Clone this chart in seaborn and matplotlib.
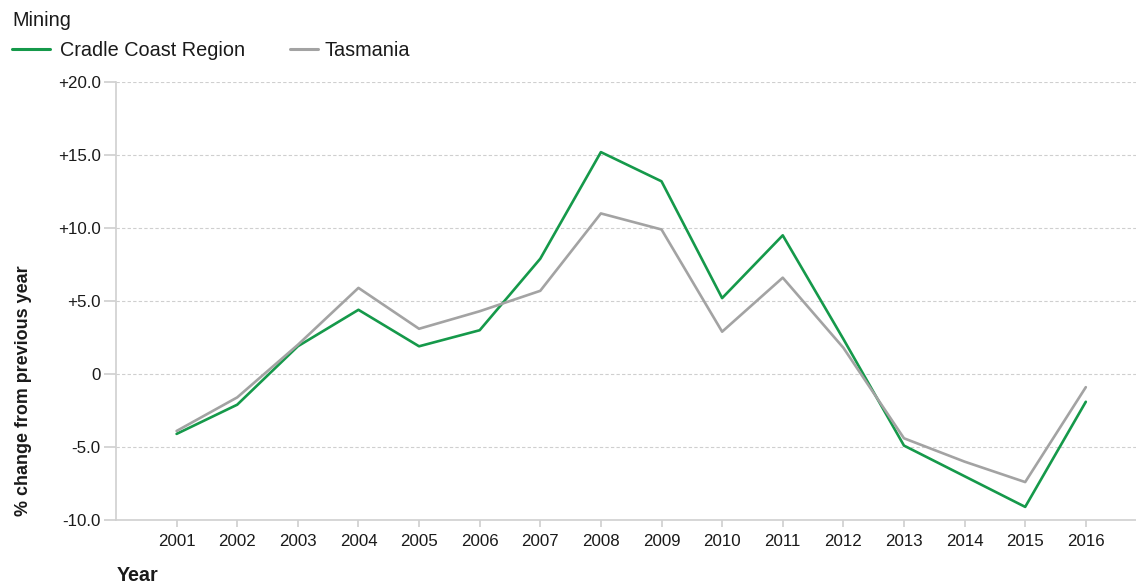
import pandas as pd
import numpy as np
import matplotlib
matplotlib.use("Agg")
import matplotlib.pyplot as plt
import seaborn as sns

# Data
years = list(range(2001, 2017))
cradle_coast = [-4.1, -2.1, 1.9, 4.4, 1.9, 3.0, 7.9, 15.2, 13.2, 5.2, 9.5, 2.4, -4.9, -7.0, -9.1, -1.9]
tasmania = [-3.9, -1.6, 2.0, 5.9, 3.1, 4.3, 5.7, 11.0, 9.9, 2.9, 6.6, 1.8, -4.4, -6.0, -7.4, -0.9]
series_names = ["Cradle Coast Region", "Tasmania"]
series_colors = ["#15994a", "#a3a3a3"]
y_ticks = [-10, -5, 0, 5, 10, 15, 20]
y_tick_labels = ["-10.0", "-5.0", "0", "+5.0", "+10.0", "+15.0", "+20.0"]

df = pd.DataFrame({
    "Year": years * 2,
    "value": cradle_coast + tasmania,
    "series": [series_names[0]] * len(years) + [series_names[1]] * len(years),
})

sns.set_theme(style="white")
plt.rcParams["font.family"] = ["Liberation Sans", "DejaVu Sans"]

fig = plt.figure(figsize=(11.36, 5.83), dpi=100)
ax = fig.add_axes([0.1021, 0.108, 0.898, 0.7513])

sns.lineplot(data=df, x="Year", y="value", hue="series",
             palette=dict(zip(series_names, series_colors)),
             linewidth=1.9, ax=ax, legend=False)

ax.set_xlim(2000, 2016.83)
ax.set_ylim(-10, 20)
ax.set_xticks(years)
ax.set_xticklabels([str(y) for y in years], fontsize=12.2)
ax.set_yticks(y_ticks)
ax.set_yticklabels(y_tick_labels, fontsize=12.2)
ax.yaxis.grid(True, linestyle=(0, (3, 2)), color="#cfcfcf", linewidth=0.8)
ax.xaxis.grid(False)

for side in ["top", "right"]:
    ax.spines[side].set_visible(False)
for side in ["left", "bottom"]:
    ax.spines[side].set_color("#d0d0d0")
    ax.spines[side].set_linewidth(1.2)
ax.tick_params(axis="both", which="both", length=6, color="#d0d0d0",
               labelcolor="#1a1a1a", direction="out")
ax.tick_params(axis="x", length=5, pad=5)
ax.tick_params(axis="y", length=9, pad=2)
ax.yaxis.set_ticks_position("left")
ax.xaxis.set_ticks_position("bottom")

ax.set_xlabel("")
ax.set_ylabel("% change from previous year", fontsize=12.9, fontweight="bold",
              color="#1a1a1a")
ax.yaxis.set_label_coords(-0.082, 0.295)
fig.text(0.103, 0.004, "Year", fontsize=14.2, fontweight="bold", color="#1a1a1a")

# Header: subtitle and legend
fig.text(0.0105, 0.965, "Mining", fontsize=14.3, color="#1a1a1a", va="center")
fig.lines.append(plt.Line2D([0.0105, 0.044], [0.916, 0.916], transform=fig.transFigure,
                            color=series_colors[0], linewidth=2.2))
fig.text(0.053, 0.914, series_names[0], fontsize=14.3, color="#1a1a1a", va="center")
fig.lines.append(plt.Line2D([0.255, 0.280], [0.916, 0.916], transform=fig.transFigure,
                            color=series_colors[1], linewidth=2.2))
fig.text(0.286, 0.914, series_names[1], fontsize=14.3, color="#1a1a1a", va="center")

fig.savefig("out.png", dpi=100)
